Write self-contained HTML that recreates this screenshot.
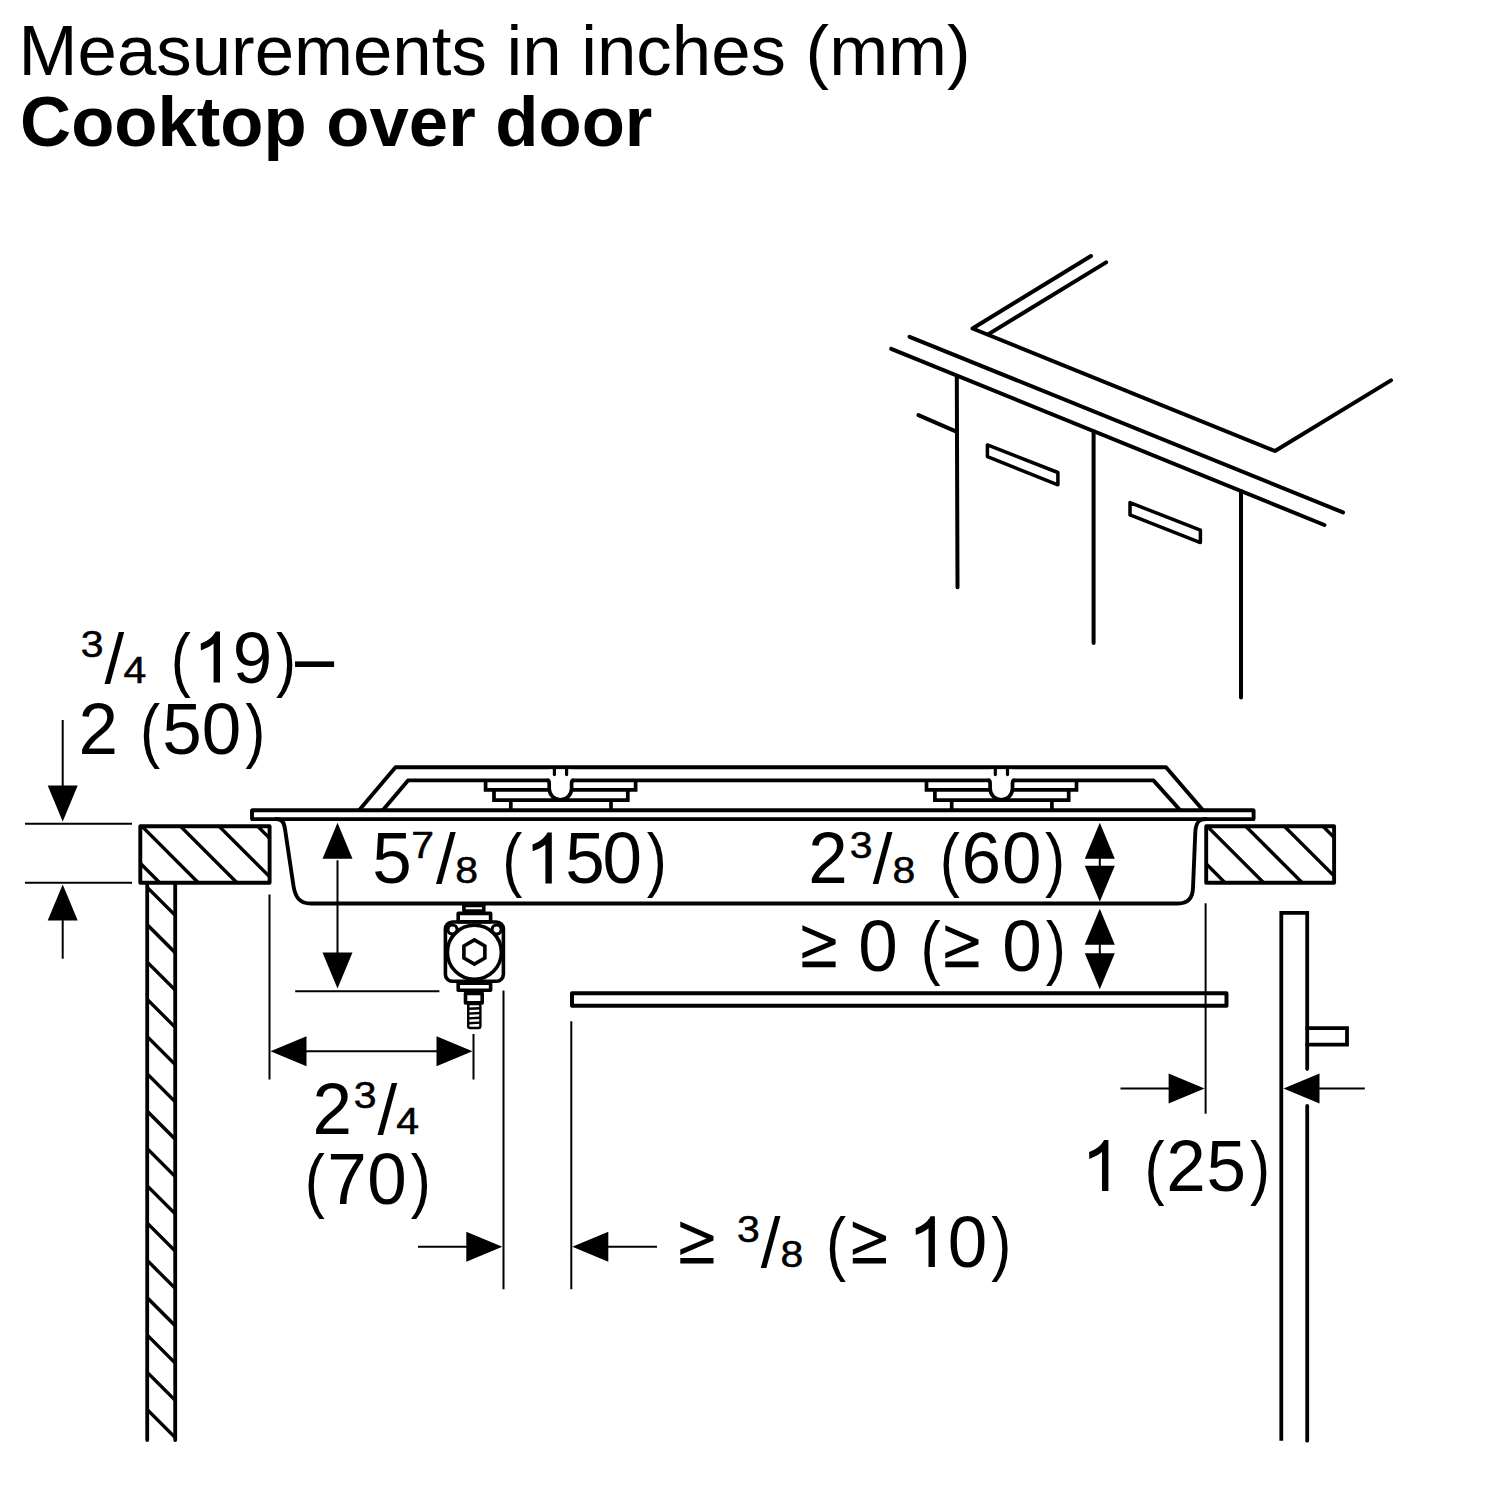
<!DOCTYPE html>
<html><head><meta charset="utf-8"><style>
html,body{margin:0;padding:0;background:#fff;}
svg{display:block;}
text{font-family:"Liberation Sans",sans-serif;fill:#000;}
</style></head><body>
<svg width="1500" height="1500" viewBox="0 0 1500 1500">
<rect width="1500" height="1500" fill="#fff"/>
<text x="18.59" y="75.00" font-size="70.8">Measurements in inches (mm)</text>
<text x="20.10" y="146.00" font-size="70.7" font-weight="bold">Cooktop over door</text>
<g fill="none" stroke="#000" stroke-width="4" stroke-linecap="round" stroke-linejoin="round">
<polyline points="1091,256 972.5,328.5 1275,451 1391,380.4"/>
<line x1="1106.1" y1="262.4" x2="988.5" y2="334.1"/>
<line x1="909.6" y1="336.8" x2="1343" y2="512.4"/>
<line x1="891.2" y1="348.8" x2="1324.4" y2="525"/>
<line x1="956.8" y1="376" x2="957.5" y2="587.2"/>
<line x1="918.4" y1="415.2" x2="955.2" y2="431.2"/>
<line x1="1093.6" y1="431.2" x2="1093.6" y2="643"/>
<line x1="1241" y1="491" x2="1241" y2="697.4"/>
<polygon points="987.4,444.9 1057.9,472.5 1057.9,484.8 987.4,456.6" stroke-width="3.5"/>
<polygon points="1130,502.6 1200.4,530.2 1200.4,542.6 1130,514.9" stroke-width="3.5"/>
</g>
<text transform="translate(80.79,657.20) scale(1.17,1.07)" font-size="35" stroke="#000" stroke-width="0.5">3</text>
<text transform="translate(104.50,682.50) scale(1.0,1.0)" font-size="71">/</text>
<text transform="translate(123.41,682.70) scale(1.17,1.07)" font-size="35" stroke="#000" stroke-width="0.5">4</text>
<text transform="translate(170.76,682.50) scale(0.85,1.0)" font-size="71">(</text>
<path transform="translate(200.70,682.50) scale(1.0000,1.0000)" d="M12.9,0 L19.3,0 L19.3,-50.9 L14.9,-50.9 C12.6,-46.5 8.5,-42 0,-38.9 L0.2,-32.1 C5.5,-34 9.8,-36.2 12.9,-38.9 Z" fill="#000"/>
<text transform="translate(232.77,682.50) scale(1.0,1.02)" font-size="71">9</text>
<text transform="translate(275.95,682.50) scale(0.85,1.0)" font-size="71">)</text>
<rect x="295" y="661.4" width="39.1" height="5.6" fill="#000"/>
<text transform="translate(78.53,753.50) scale(1.0,1.02)" font-size="71">2</text>
<text transform="translate(139.96,753.50) scale(0.85,1.0)" font-size="71">(</text>
<text transform="translate(162.36,753.50) scale(1.0,1.02)" font-size="71">5</text>
<text transform="translate(201.63,753.50) scale(1.0,1.02)" font-size="71">0</text>
<text transform="translate(245.15,753.50) scale(0.85,1.0)" font-size="71">)</text>
<line x1="62.7" y1="720" x2="62.7" y2="790" stroke="#000" stroke-width="2.0" stroke-linecap="butt"/>
<polygon fill="#000" points="62.70,821.50 47.70,785.50 77.70,785.50"/>
<line x1="25" y1="823.8" x2="132" y2="823.8" stroke="#000" stroke-width="2.0" stroke-linecap="butt"/>
<line x1="25" y1="882.8" x2="132" y2="882.8" stroke="#000" stroke-width="2.0" stroke-linecap="butt"/>
<polygon fill="#000" points="62.70,884.50 47.70,920.50 77.70,920.50"/>
<line x1="62.7" y1="915" x2="62.7" y2="958.7" stroke="#000" stroke-width="2.0" stroke-linecap="butt"/>
<clipPath id="ct1"><rect x="140.3" y="826.3" width="129.3" height="56.5"/></clipPath>
<g clip-path="url(#ct1)" stroke="#000" stroke-width="3.4">
<line x1="98.30" y1="821.3" x2="164.80" y2="887.8"/>
<line x1="136.90" y1="821.3" x2="203.40" y2="887.8"/>
<line x1="175.50" y1="821.3" x2="242.00" y2="887.8"/>
<line x1="214.10" y1="821.3" x2="280.60" y2="887.8"/>
<line x1="252.70" y1="821.3" x2="319.20" y2="887.8"/>
</g>
<rect x="140.3" y="826.3" width="129.3" height="56.5" fill="none" stroke="#000" stroke-width="3.9" stroke-linejoin="round"/>
<clipPath id="ct2"><rect x="1206.2" y="826.3" width="127.89999999999986" height="56.40000000000009"/></clipPath>
<g clip-path="url(#ct2)" stroke="#000" stroke-width="3.4">
<line x1="1163.60" y1="821.3" x2="1230.00" y2="887.7"/>
<line x1="1202.20" y1="821.3" x2="1268.60" y2="887.7"/>
<line x1="1240.80" y1="821.3" x2="1307.20" y2="887.7"/>
<line x1="1279.40" y1="821.3" x2="1345.80" y2="887.7"/>
<line x1="1318.00" y1="821.3" x2="1384.40" y2="887.7"/>
</g>
<rect x="1206.2" y="826.3" width="127.89999999999986" height="56.40000000000009" fill="none" stroke="#000" stroke-width="3.9" stroke-linejoin="round"/>
<clipPath id="sp"><rect x="147.2" y="882.8" width="28" height="560"/></clipPath>
<g clip-path="url(#sp)" stroke="#000" stroke-width="3.4">
<line x1="144.2" y1="884.40" x2="178.2" y2="918.40"/>
<line x1="144.2" y1="921.70" x2="178.2" y2="955.70"/>
<line x1="144.2" y1="959.00" x2="178.2" y2="993.00"/>
<line x1="144.2" y1="996.30" x2="178.2" y2="1030.30"/>
<line x1="144.2" y1="1033.60" x2="178.2" y2="1067.60"/>
<line x1="144.2" y1="1070.90" x2="178.2" y2="1104.90"/>
<line x1="144.2" y1="1108.20" x2="178.2" y2="1142.20"/>
<line x1="144.2" y1="1145.50" x2="178.2" y2="1179.50"/>
<line x1="144.2" y1="1182.80" x2="178.2" y2="1216.80"/>
<line x1="144.2" y1="1220.10" x2="178.2" y2="1254.10"/>
<line x1="144.2" y1="1257.40" x2="178.2" y2="1291.40"/>
<line x1="144.2" y1="1294.70" x2="178.2" y2="1328.70"/>
<line x1="144.2" y1="1332.00" x2="178.2" y2="1366.00"/>
<line x1="144.2" y1="1369.30" x2="178.2" y2="1403.30"/>
<line x1="144.2" y1="1406.60" x2="178.2" y2="1440.60"/>
<line x1="144.2" y1="1443.90" x2="178.2" y2="1477.90"/>
</g>
<g stroke="#000" stroke-width="3.8" stroke-linecap="round" fill="none">
<line x1="147.2" y1="884" x2="147.2" y2="1440"/>
<line x1="175.2" y1="884" x2="175.2" y2="1440"/>
</g>
<g fill="none" stroke="#000" stroke-width="3.9" stroke-linejoin="round" stroke-linecap="round">
<rect x="252" y="810.3" width="1001.6" height="8.8" rx="0.6" stroke-linejoin="miter"/>
<path d="M276,819 C282,819 284,822 285,829 L293.5,886 C295.5,898 300,903.5 311,903.5 L1178,903.5 C1188,903.5 1192.6,898 1193,888 L1195.3,832 C1195.8,823 1198.5,819 1206,819"/>
<path d="M359.3,810 L395.5,767.2 L1166,767.2 L1202.8,810"/>
<path d="M383,810 L408,780.4 L1153.4,780.4 L1180,810"/>
</g>
<g transform="translate(0.00,0)" fill="none" stroke="#000" stroke-width="3.7" stroke-linejoin="miter">
<polyline points="485.6,780.4 485.6,789.8 635.6,789.8 635.6,780.4"/>
<polyline points="494,789.8 494,800.2 627.8,800.2 627.8,789.8"/>
<line x1="510.8" y1="800.2" x2="510.8" y2="810"/>
<line x1="611" y1="800.2" x2="611" y2="810"/>
</g>
<g transform="translate(0.00,0)">
<path d="M549.2,769.6 L549.2,788.6 A11.2,11.2 0 0 0 571.6,788.6 L571.6,769.6 Z" fill="#fff"/>
<path d="M547,780.4 Q549.2,780.4 549.2,783 L549.2,788.6 A11.2,11.2 0 0 0 571.6,788.6 L571.6,783 Q571.6,780.4 574,780.4" fill="none" stroke="#000" stroke-width="3.7"/>
<line x1="554.4" y1="769" x2="554.4" y2="774.6" stroke="#000" stroke-width="3.2" stroke-linecap="round"/>
<line x1="566.6" y1="769" x2="566.6" y2="774.6" stroke="#000" stroke-width="3.2" stroke-linecap="round"/>
</g>
<g transform="translate(440.90,0)" fill="none" stroke="#000" stroke-width="3.7" stroke-linejoin="miter">
<polyline points="485.6,780.4 485.6,789.8 635.6,789.8 635.6,780.4"/>
<polyline points="494,789.8 494,800.2 627.8,800.2 627.8,789.8"/>
<line x1="510.8" y1="800.2" x2="510.8" y2="810"/>
<line x1="611" y1="800.2" x2="611" y2="810"/>
</g>
<g transform="translate(440.90,0)">
<path d="M549.2,769.6 L549.2,788.6 A11.2,11.2 0 0 0 571.6,788.6 L571.6,769.6 Z" fill="#fff"/>
<path d="M547,780.4 Q549.2,780.4 549.2,783 L549.2,788.6 A11.2,11.2 0 0 0 571.6,788.6 L571.6,783 Q571.6,780.4 574,780.4" fill="none" stroke="#000" stroke-width="3.7"/>
<line x1="554.4" y1="769" x2="554.4" y2="774.6" stroke="#000" stroke-width="3.2" stroke-linecap="round"/>
<line x1="566.6" y1="769" x2="566.6" y2="774.6" stroke="#000" stroke-width="3.2" stroke-linecap="round"/>
</g>
<polygon fill="#000" points="337.50,822.70 322.50,858.70 352.50,858.70"/>
<line x1="337.5" y1="860.3" x2="337.5" y2="957" stroke="#000" stroke-width="2.0" stroke-linecap="butt"/>
<polygon fill="#000" points="337.50,988.60 322.50,952.60 352.50,952.60"/>
<line x1="295.2" y1="991.2" x2="439.4" y2="991.2" stroke="#000" stroke-width="2.0" stroke-linecap="butt"/>
<text transform="translate(411.35,857.80) scale(1.17,1.07)" font-size="35" stroke="#000" stroke-width="0.5">7</text>
<text transform="translate(372.36,883.40) scale(1.0,1.02)" font-size="71">5</text>
<text transform="translate(436.00,883.40) scale(1.0,1.0)" font-size="71">/</text>
<text transform="translate(502.36,883.40) scale(0.85,1.0)" font-size="71">(</text>
<path transform="translate(532.50,883.40) scale(1.0000,1.0000)" d="M12.9,0 L19.3,0 L19.3,-50.9 L14.9,-50.9 C12.6,-46.5 8.5,-42 0,-38.9 L0.2,-32.1 C5.5,-34 9.8,-36.2 12.9,-38.9 Z" fill="#000"/>
<text transform="translate(565.16,883.40) scale(1.0,1.02)" font-size="71">5</text>
<text transform="translate(602.53,883.40) scale(1.0,1.02)" font-size="71">0</text>
<text transform="translate(646.65,883.40) scale(0.85,1.0)" font-size="71">)</text>
<text transform="translate(455.27,882.80) scale(1.17,1.07)" font-size="35" stroke="#000" stroke-width="0.5">8</text>
<g fill="none" stroke="#000" stroke-width="3.6" stroke-linejoin="round">
<rect x="463.9" y="905.4" width="19.9" height="5.7"/>
<rect x="458.2" y="913.4" width="32.4" height="8.4"/>
<rect x="445.4" y="922" width="58" height="59.2" rx="7"/>
<circle cx="474.4" cy="952.2" r="27"/>
<circle cx="452.5" cy="929.6" r="4.6" stroke-width="3.2"/>
<circle cx="496.6" cy="929.6" r="4.6" stroke-width="3.2"/>
<polygon points="474.40,939.90 484.88,945.95 484.88,958.05 474.40,964.10 463.92,958.05 463.92,945.95" stroke-linejoin="miter"/>
<rect x="458.2" y="983.3" width="32.4" height="6.9"/>
<rect x="465.5" y="993.4" width="16.7" height="9.5"/>
</g>
<g fill="none" stroke="#000" stroke-width="2.4">
<rect x="468.2" y="1004" width="12.2" height="24" rx="2"/>
<line x1="468.2" y1="1008.8" x2="480.4" y2="1008.2"/>
<line x1="468.2" y1="1013.6" x2="480.4" y2="1013.0"/>
<line x1="468.2" y1="1018.4" x2="480.4" y2="1017.8"/>
<line x1="468.2" y1="1023.2" x2="480.4" y2="1022.6"/>
</g>
<text transform="translate(808.13,883.20) scale(1.0,1.02)" font-size="71">2</text>
<text transform="translate(872.80,883.20) scale(1.0,1.0)" font-size="71">/</text>
<text transform="translate(939.76,883.20) scale(0.85,1.0)" font-size="71">(</text>
<text transform="translate(961.39,883.20) scale(1.0,1.02)" font-size="71">6</text>
<text transform="translate(1001.93,883.20) scale(1.0,1.02)" font-size="71">0</text>
<text transform="translate(1044.95,883.20) scale(0.85,1.0)" font-size="71">)</text>
<text transform="translate(849.79,857.90) scale(1.17,1.07)" font-size="35" stroke="#000" stroke-width="0.5">3</text>
<text transform="translate(892.47,883.10) scale(1.17,1.07)" font-size="35" stroke="#000" stroke-width="0.5">8</text>
<polygon fill="#000" points="1099.80,822.70 1084.80,858.70 1114.80,858.70"/>
<line x1="1099.8" y1="855" x2="1099.8" y2="870" stroke="#000" stroke-width="2.0" stroke-linecap="butt"/>
<polygon fill="#000" points="1099.80,901.80 1084.80,865.80 1114.80,865.80"/>
<path transform="translate(802.40,970.70) scale(1.0000)" d="M0,-45.5 L33.2,-31.1 L33.2,-26.5 L0,-12.1 L0,-17.7 L26.2,-28.7 L0,-40.1 Z M0,-9.1 L33.2,-9.1 L33.2,-3.5 L0,-3.5 Z" fill="#000"/>
<text transform="translate(858.23,970.70) scale(1.0,1.02)" font-size="71">0</text>
<text transform="translate(920.56,970.70) scale(0.85,1.0)" font-size="71">(</text>
<path transform="translate(945.30,970.70) scale(1.0000)" d="M0,-45.5 L33.2,-31.1 L33.2,-26.5 L0,-12.1 L0,-17.7 L26.2,-28.7 L0,-40.1 Z M0,-9.1 L33.2,-9.1 L33.2,-3.5 L0,-3.5 Z" fill="#000"/>
<text transform="translate(1002.13,970.70) scale(1.0,1.02)" font-size="71">0</text>
<text transform="translate(1045.85,970.70) scale(0.85,1.0)" font-size="71">)</text>
<polygon fill="#000" points="1099.80,908.80 1084.80,944.80 1114.80,944.80"/>
<line x1="1099.8" y1="942" x2="1099.8" y2="956" stroke="#000" stroke-width="2.0" stroke-linecap="butt"/>
<polygon fill="#000" points="1099.80,989.20 1084.80,953.20 1114.80,953.20"/>
<rect x="572" y="993.3" width="654.5" height="12.5" fill="none" stroke="#000" stroke-width="4" stroke-linejoin="round"/>
<line x1="269.5" y1="894.5" x2="269.5" y2="1079.5" stroke="#000" stroke-width="2.0" stroke-linecap="butt"/>
<line x1="473.5" y1="1034" x2="473.5" y2="1079.5" stroke="#000" stroke-width="2.0" stroke-linecap="butt"/>
<polygon fill="#000" points="270.50,1051.20 306.50,1036.20 306.50,1066.20"/>
<line x1="300" y1="1051.2" x2="445" y2="1051.2" stroke="#000" stroke-width="2.0" stroke-linecap="butt"/>
<polygon fill="#000" points="472.50,1051.20 436.50,1036.20 436.50,1066.20"/>
<text transform="translate(312.43,1133.50) scale(1.0,1.02)" font-size="71">2</text>
<text transform="translate(377.50,1133.50) scale(1.0,1.0)" font-size="71">/</text>
<text transform="translate(353.69,1108.20) scale(1.17,1.07)" font-size="35" stroke="#000" stroke-width="0.5">3</text>
<text transform="translate(396.31,1133.60) scale(1.17,1.07)" font-size="35" stroke="#000" stroke-width="0.5">4</text>
<text transform="translate(304.76,1204.00) scale(0.85,1.0)" font-size="71">(</text>
<text transform="translate(327.36,1204.00) scale(1.0,1.02)" font-size="71">7</text>
<text transform="translate(367.23,1204.00) scale(1.0,1.02)" font-size="71">0</text>
<text transform="translate(410.65,1204.00) scale(0.85,1.0)" font-size="71">)</text>
<line x1="503.5" y1="990.4" x2="503.5" y2="1289.3" stroke="#000" stroke-width="2.0" stroke-linecap="butt"/>
<line x1="571.3" y1="1021.3" x2="571.3" y2="1289.3" stroke="#000" stroke-width="2.0" stroke-linecap="butt"/>
<line x1="418" y1="1246.7" x2="470" y2="1246.7" stroke="#000" stroke-width="2.0" stroke-linecap="butt"/>
<polygon fill="#000" points="502.30,1246.70 466.30,1231.70 466.30,1261.70"/>
<polygon fill="#000" points="572.30,1246.70 608.30,1231.70 608.30,1261.70"/>
<line x1="600" y1="1246.7" x2="657" y2="1246.7" stroke="#000" stroke-width="2.0" stroke-linecap="butt"/>
<path transform="translate(680.30,1267.10) scale(1.0000)" d="M0,-45.5 L33.2,-31.1 L33.2,-26.5 L0,-12.1 L0,-17.7 L26.2,-28.7 L0,-40.1 Z M0,-9.1 L33.2,-9.1 L33.2,-3.5 L0,-3.5 Z" fill="#000"/>
<text transform="translate(760.80,1267.10) scale(1.0,1.0)" font-size="71">/</text>
<text transform="translate(826.06,1267.10) scale(0.85,1.0)" font-size="71">(</text>
<path transform="translate(852.80,1267.10) scale(1.0000)" d="M0,-45.5 L33.2,-31.1 L33.2,-26.5 L0,-12.1 L0,-17.7 L26.2,-28.7 L0,-40.1 Z M0,-9.1 L33.2,-9.1 L33.2,-3.5 L0,-3.5 Z" fill="#000"/>
<path transform="translate(915.60,1267.10) scale(1.0000,1.0000)" d="M12.9,0 L19.3,0 L19.3,-50.9 L14.9,-50.9 C12.6,-46.5 8.5,-42 0,-38.9 L0.2,-32.1 C5.5,-34 9.8,-36.2 12.9,-38.9 Z" fill="#000"/>
<text transform="translate(947.63,1267.10) scale(1.0,1.02)" font-size="71">0</text>
<text transform="translate(991.25,1267.10) scale(0.85,1.0)" font-size="71">)</text>
<text transform="translate(736.99,1242.20) scale(1.17,1.07)" font-size="35" stroke="#000" stroke-width="0.5">3</text>
<text transform="translate(780.57,1267.20) scale(1.17,1.07)" font-size="35" stroke="#000" stroke-width="0.5">8</text>
<line x1="1205.6" y1="903.3" x2="1205.6" y2="1113.7" stroke="#000" stroke-width="2.0" stroke-linecap="butt"/>
<line x1="1120.5" y1="1088.6" x2="1172" y2="1088.6" stroke="#000" stroke-width="2.0" stroke-linecap="butt"/>
<polygon fill="#000" points="1204.60,1088.60 1168.60,1073.60 1168.60,1103.60"/>
<g fill="none" stroke="#000" stroke-width="3.8" stroke-linecap="round" stroke-linejoin="miter">
<polyline points="1281.3,1440.7 1281.3,912.9 1307.2,912.9 1307.2,1069" stroke-linecap="butt"/>
<line x1="1307.2" y1="1106" x2="1307.2" y2="1440.7"/>
<polyline points="1307.2,1028.2 1347,1028.2 1347,1044.6 1307.2,1044.6"/>
</g>
<line x1="1307.2" y1="1069" x2="1307.2" y2="1069.1" stroke="#000" stroke-width="3.6" stroke-linecap="round"/>
<polygon fill="#000" points="1283.50,1088.60 1319.50,1073.60 1319.50,1103.60"/>
<line x1="1315" y1="1088.6" x2="1364.8" y2="1088.6" stroke="#000" stroke-width="2.0" stroke-linecap="butt"/>
<path transform="translate(1089.10,1191.00) scale(1.0000,1.0000)" d="M12.9,0 L19.3,0 L19.3,-50.9 L14.9,-50.9 C12.6,-46.5 8.5,-42 0,-38.9 L0.2,-32.1 C5.5,-34 9.8,-36.2 12.9,-38.9 Z" fill="#000"/>
<text transform="translate(1144.56,1191.00) scale(0.85,1.0)" font-size="71">(</text>
<text transform="translate(1166.13,1191.00) scale(1.0,1.02)" font-size="71">2</text>
<text transform="translate(1206.56,1191.00) scale(1.0,1.02)" font-size="71">5</text>
<text transform="translate(1249.95,1191.00) scale(0.85,1.0)" font-size="71">)</text>
</svg>
</body></html>
